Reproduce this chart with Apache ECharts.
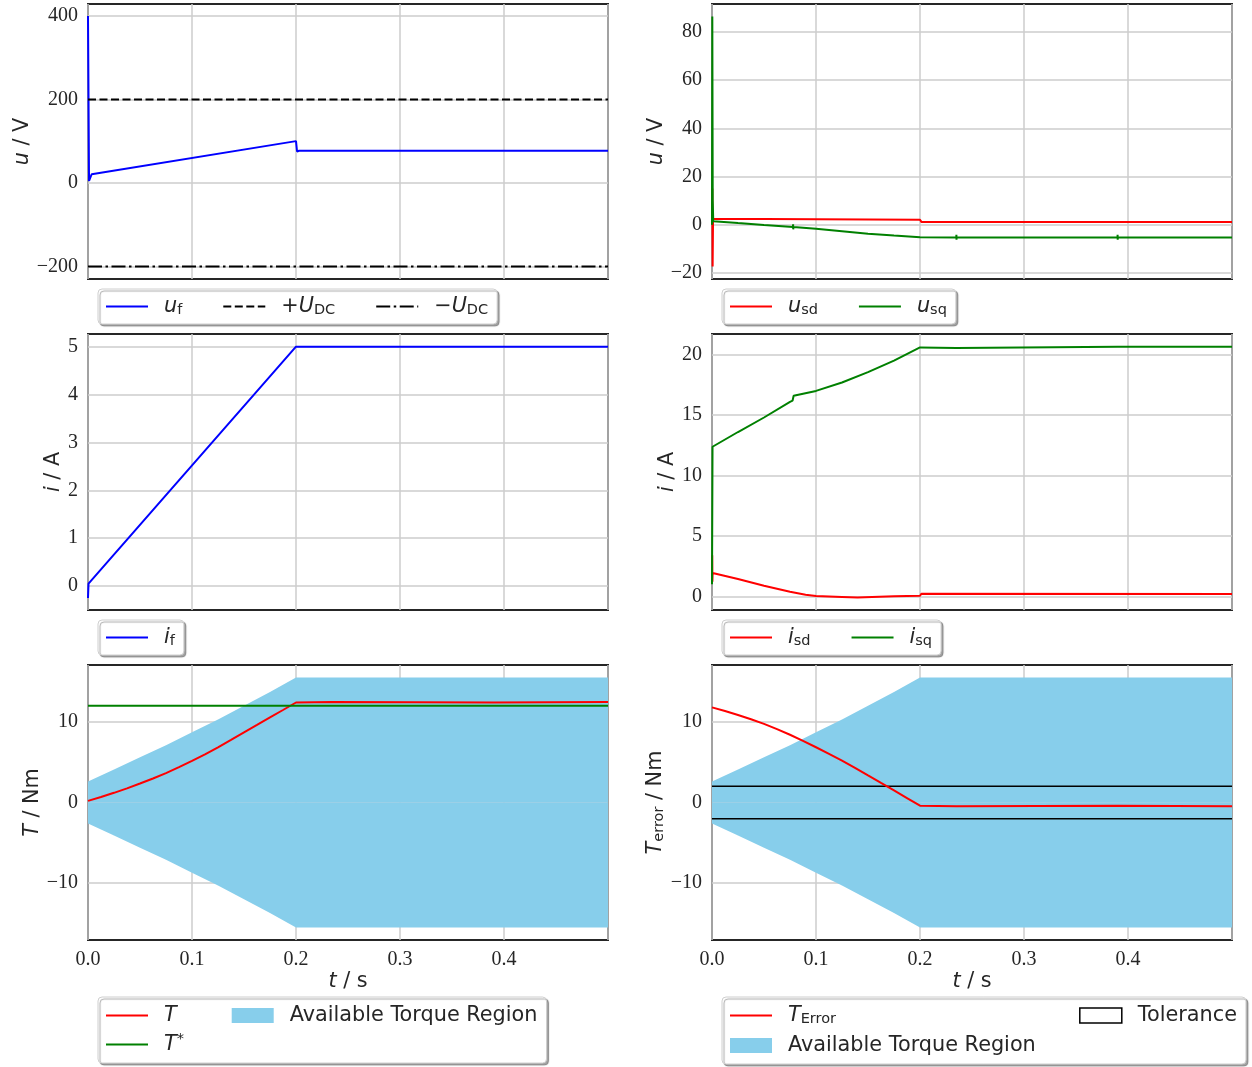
<!DOCTYPE html>
<html><head><meta charset="utf-8">
<script src="https://cdn.jsdelivr.net/npm/echarts@6/dist/echarts.min.js"></script>
<style>html,body{margin:0;padding:0;background:#fff}#c{width:1252px;height:1067px}</style>
</head><body><div id="c"></div><script>
// ---------------- data ----------------
const xTicks = [0, 0.1, 0.2, 0.3, 0.4];
const tConst = [0, 0.5];
// panel 1: field voltage
const tUf = [0, 0.001, 0.0035, 0.2, 0.201, 0.203, 0.5];
const uf  = [400, 5, 21, 100.4, 75.5, 77.2, 77.2];
const udcPos = [200, 200];
const udcNeg = [-200, -200];
const yTicks1 = [-200, 0, 200, 400];
// panel 2: stator voltages
const tUsd = [0, 0.0003, 0.0006, 0.001, 0.0015, 0.2, 0.2015, 0.5];
const usd  = [0, 15, -17.3, 2.5, 2.1, 2.1, 1.1, 1.1];
const tUsq = [0, 0.0003, 0.0007, 0.0012, 0.025, 0.05, 0.0779, 0.078, 0.0781, 0.0782, 0.1, 0.125, 0.15, 0.175, 0.2, 0.2349, 0.235, 0.2351, 0.2352, 0.3899, 0.39, 0.3901, 0.3902, 0.5];
const usq  = [0, 86.4, 10, 1.5, 0.7, -0.1, -0.9, 0.2, -1.9, -0.9, -1.7, -2.7, -3.7, -4.5, -5.2, -5.25, -4.2, -6.2, -5.25, -5.25, -4.2, -6.2, -5.25, -5.25];
const yTicks2 = [-20, 0, 20, 40, 60, 80];
// panel 3: field current
const tIf = [0, 0.0005, 0.2, 0.5];
const iF  = [-0.25, 0.05, 5.0, 5.0];
const yTicks3 = [0, 1, 2, 3, 4, 5];
// panel 4: stator currents
const tIsd = [0, 0.0002, 0.0004, 0.0006, 0.025, 0.05, 0.075, 0.09, 0.1, 0.125, 0.14, 0.175, 0.2, 0.2015, 0.5];
const isd  = [1.3, 3.4, 1.2, 1.93, 1.43, 0.88, 0.38, 0.13, 0.03, -0.05, -0.1, 0.0, 0.05, 0.22, 0.2];
const tIsq = [0, 0.0005, 0.025, 0.05, 0.075, 0.0775, 0.0785, 0.1, 0.125, 0.15, 0.175, 0.2, 0.235, 0.39, 0.5];
const isq  = [1.0, 12.38, 13.6, 14.8, 16.1, 16.2, 16.6, 17.0, 17.7, 18.55, 19.5, 20.6, 20.55, 20.65, 20.65];
const yTicks4 = [0, 5, 10, 15, 20];
// panels 5/6: torque
const tRegion = [0, 0.025, 0.05, 0.075, 0.1, 0.125, 0.15, 0.175, 0.2, 0.5];
const regionUpper = [2.6, 4.1, 5.6, 7.1, 8.7, 10.3, 12.0, 13.7, 15.5, 15.5];
const regionLower = [-2.6, -4.1, -5.6, -7.1, -8.7, -10.3, -12.0, -13.7, -15.5, -15.5];
const tTorque = [0, 0.0125, 0.025, 0.0375, 0.05, 0.0625, 0.075, 0.0875, 0.1, 0.1125, 0.125, 0.1375, 0.15, 0.1625, 0.175, 0.1875, 0.2, 0.235, 0.39, 0.5];
const torque  = [0.2, 0.68, 1.2, 1.75, 2.35, 2.98, 3.65, 4.38, 5.15, 5.98, 6.85, 7.77, 8.7, 9.62, 10.55, 11.47, 12.4, 12.45, 12.4, 12.45];
const torqueRef = [12.0, 12.0];
const torqueErr = [11.8, 11.34, 10.85, 10.32, 9.75, 9.1, 8.4, 7.65, 6.85, 6.04, 5.2, 4.29, 3.35, 2.42, 1.5, 0.55, -0.4, -0.45, -0.4, -0.45];
const tolUpper = [2, 2];
const tolLower = [-2, -2];
const yTicks5 = [-10, 0, 10];

// ---------------- helpers ----------------
const zip = (t, v) => t.map((x, i) => [x, v[i]]);
const TXT = '#262626';
const SANS = 'DejaVu Sans';
const FS = 20.8;
const rich = {
  i: {fontStyle: 'italic', fontSize: FS, fontFamily: SANS, color: TXT},
  s: {fontSize: 14.5, fontFamily: SANS, color: TXT, padding: [8, 0, 0, 0]},
  p: {fontSize: 14.5, fontFamily: SANS, color: TXT, padding: [0, 0, 10, 0]},
  g1: {width: 47, height: 10, backgroundColor: 'rgba(255,255,255,0)'},
  g2: {width: 235, height: 10, backgroundColor: 'rgba(255,255,255,0)'}
};
const legendLabels = {
  uf: '{i|u}{s|f}', UDCp: '+{i|U}{s|DC}', UDCn: '\u2212{i|U}{s|DC}',
  usd: '{i|u}{s|sd}', usq: '{i|u}{s|sq}',
  iF: '{i|i}{s|f}', isd: '{i|i}{s|sd}', isq: '{i|i}{s|sq}',
  T: '{i|T}{g1| }', Tstar: '{i|T}{p|*}', Terr: '{i|T}{s|Error}{g2| }',
  'Available Torque Region': 'Available Torque Region', Tolerance: 'Tolerance'
};
const fmtNum = v => (v < 0 ? '\u2212' : '') + Math.abs(v);

const gridPos = [
  {left: 88, top: 4, width: 520, height: 275},
  {left: 712, top: 4, width: 520, height: 275},
  {left: 88, top: 334, width: 520, height: 276},
  {left: 712, top: 334, width: 520, height: 276},
  {left: 88, top: 665, width: 520, height: 275},
  {left: 712, top: 665, width: 520, height: 275}
];
const grids = gridPos.map(g => Object.assign({show: true, borderColor: TXT, borderWidth: 2, backgroundColor: '#fff'}, g));

const xAxes = gridPos.map((g, i) => ({
  type: 'value', gridIndex: i, min: 0, max: 0.5, interval: 0.1,
  axisLine: {show: false}, axisTick: {show: false},
  splitLine: {show: true, lineStyle: {color: '#cccccc', width: 1.5}},
  axisLabel: {show: i >= 4, showMaxLabel: false, margin: 10, fontFamily: 'Liberation Serif', fontSize: 20, color: TXT,
              formatter: v => v.toFixed(1)},
  name: i >= 4 ? '{i|t} / s' : '', nameLocation: 'middle', nameGap: 30,
  nameTextStyle: {fontFamily: SANS, fontSize: FS, color: TXT, rich: rich}
}));

function yAxis(i, min, max, ticks, name, gap) {
  return {
    type: 'value', gridIndex: i, min: min, max: max,
    axisLine: {show: false},
    axisTick: {show: false, customValues: ticks},
    splitLine: {show: true, lineStyle: {color: '#cccccc', width: 1.5}},
    axisLabel: {customValues: ticks, margin: 10, fontFamily: 'Liberation Serif', fontSize: 20, color: TXT, formatter: fmtNum},
    name: name, nameLocation: 'middle', nameRotate: 90, nameGap: gap,
    nameTextStyle: {fontFamily: SANS, fontSize: FS, color: TXT, rich: rich}
  };
}
const yAxes = [
  yAxis(0, -230, 429, yTicks1, '{i|u} / V', 55),
  yAxis(1, -22.5, 91.6, yTicks2, '{i|u} / V', 44),
  yAxis(2, -0.5, 5.265, yTicks3, '{i|i} / A', 23),
  yAxis(3, -1.13, 21.71, yTicks4, '{i|i} / A', 34),
  yAxis(4, -17.05, 17.05, yTicks5, '{i|T} / Nm', 45),
  yAxis(5, -17.05, 17.05, yTicks5, '{i|T}{s|error} / Nm', 44)
];

function line(name, gi, t, v, color, type, width) {
  return {
    name: name, type: 'line', xAxisIndex: gi, yAxisIndex: gi, data: zip(t, v),
    symbol: 'none', animation: false, silent: true,
    lineStyle: {color: color, width: width || 2, type: type || 'solid'},
    itemStyle: {color: color}
  };
}
// region drawn as two areas filled to zero (upper >= 0 >= lower)
function region(gi) {
  return [regionUpper, regionLower].map(v => ({
    name: 'Available Torque Region', type: 'line', xAxisIndex: gi, yAxisIndex: gi,
    data: zip(tRegion, v), symbol: 'none', animation: false, silent: true,
    lineStyle: {width: 0, opacity: 0}, itemStyle: {color: '#87ceeb'},
    areaStyle: {color: '#87ceeb', opacity: 1, origin: 0}
  }));
}

const series = [
  line('uf', 0, tUf, uf, '#0000ff'),
  line('UDCp', 0, tConst, udcPos, '#000000', [8, 3.5]),
  line('UDCn', 0, tConst, udcNeg, '#000000', [14, 3.5, 2.5, 3.5]),
  line('usd', 1, tUsd, usd, '#ff0000'),
  line('usq', 1, tUsq, usq, '#008000'),
  line('iF', 2, tIf, iF, '#0000ff'),
  line('isd', 3, tIsd, isd, '#ff0000'),
  line('isq', 3, tIsq, isq, '#008000'),
  ...region(4),
  line('T', 4, tTorque, torque, '#ff0000'),
  line('Tstar', 4, tConst, torqueRef, '#008000'),
  ...region(5),
  line('Tolerance', 5, tConst, tolUpper, '#000000', 'solid', 1.5),
  line('Tolerance', 5, tConst, tolLower, '#000000', 'solid', 1.5),
  line('Terr', 5, tTorque, torqueErr, '#ff0000')
];

const legendBase = {
  orient: 'horizontal', selectedMode: false, itemWidth: 42, itemHeight: 15, itemGap: 40,
  backgroundColor: '#fff', borderColor: '#cfcfcf', borderWidth: 1, borderRadius: 4,
  shadowColor: 'rgba(0,0,0,0.35)', shadowOffsetX: 2, shadowOffsetY: 2, shadowBlur: 1,
  padding: [7, 9, 6, 7],
  itemStyle: {opacity: 0},
  textStyle: {fontFamily: SANS, fontSize: FS, color: TXT, padding: [0, 0, 0, 11], rich: rich},
  formatter: n => legendLabels[n] || n
};
const areaItem = {name: 'Available Torque Region', icon: 'rect', itemStyle: {color: '#87ceeb', borderWidth: 0, opacity: 1}};
const legends = [
  Object.assign({}, legendBase, {left: 98, top: 289, data: ['uf', 'UDCp', 'UDCn']}),
  Object.assign({}, legendBase, {left: 722, top: 289, data: ['usd', 'usq']}),
  Object.assign({}, legendBase, {left: 98, top: 620, data: ['iF']}),
  Object.assign({}, legendBase, {left: 722, top: 620, data: ['isd', 'isq']}),
  Object.assign({}, legendBase, {left: 98, top: 997, itemGap: 8, padding: [8, 9, 8, 7],
    data: ['T', areaItem, '\n', 'Tstar']}),
  Object.assign({}, legendBase, {left: 722, top: 997, itemGap: 8, padding: [8, 9, 8, 7],
    data: ['Terr',
           {name: 'Tolerance', icon: 'rect', itemStyle: {color: '#ffffff', borderColor: '#000000', borderWidth: 1.5, opacity: 1}},
           '\n', areaItem]})
];

const chart = echarts.init(document.getElementById('c'), null, {renderer: 'canvas'});
chart.setOption({
  animation: false,
  backgroundColor: '#ffffff',
  grid: grids, xAxis: xAxes, yAxis: yAxes, legend: legends, series: series
});
</script></body></html>
